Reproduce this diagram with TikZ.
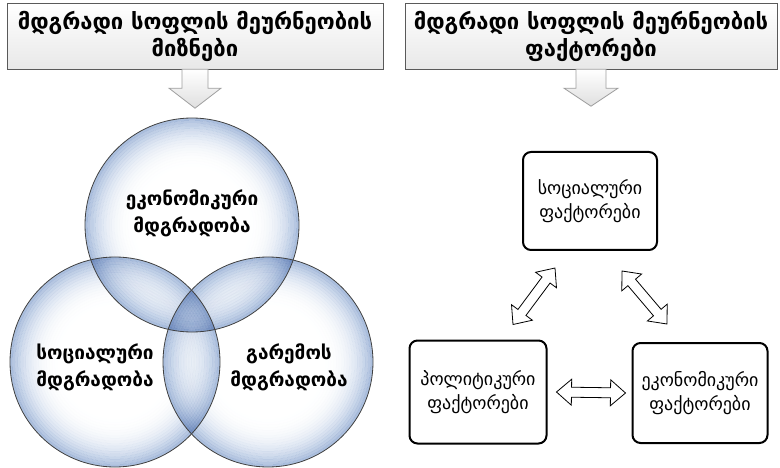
\documentclass[tikz,border=0pt]{standalone}
\usepackage{fontspec}
\newfontfamily\geo{DejaVu Sans}
\usepackage{tikz}
\usetikzlibrary{calc,shadows,arrows,shapes}
\usetikzlibrary{positioning}

\definecolor{bubbleedge}{RGB}{165,187,220}

\begin{document}
\begin{tikzpicture}[x=1pt,y=-1pt,
	headbox/.style={draw=gray!70!black, top color=white, bottom color=gray!18, minimum height=66pt, align=center, inner sep=0pt, font=\geo\bfseries\fontsize{22}{27}\selectfont},
	downarrow/.style={draw=gray!75, line width=0.8pt, top color=white, bottom color=gray!25},
	circlenode/.style={circle, minimum size=#1},
	circtext/.style={align=center, font=\geo\bfseries\fontsize{19}{27}\selectfont},
	factbox/.style={draw, line width=2pt, rounded corners=8pt, fill=white, minimum width=134pt, minimum height=100pt, align=center, font=\geo\fontsize{18}{24}\selectfont},
	twoway/.style={draw, fill=white, line width=0.8pt, to path={
		-- ($(\tikztostart)!15pt!(\tikztotarget)!13pt!90:(\tikztotarget)$)
		-- ($(\tikztostart)!15pt!(\tikztotarget)!5pt!90:(\tikztotarget)$)
		-- ($(\tikztotarget)!15pt!(\tikztostart)!5pt!-90:(\tikztostart)$)
		-- ($(\tikztotarget)!15pt!(\tikztostart)!13pt!-90:(\tikztostart)$)
		-- (\tikztotarget)
		-- ($(\tikztotarget)!15pt!(\tikztostart)!13pt!90:(\tikztostart)$)
		-- ($(\tikztotarget)!15pt!(\tikztostart)!5pt!90:(\tikztostart)$)
		-- ($(\tikztostart)!15pt!(\tikztotarget)!5pt!-90:(\tikztotarget)$)
		-- ($(\tikztostart)!15pt!(\tikztotarget)!13pt!-90:(\tikztotarget)$)
		-- cycle}}]
	\useasboundingbox (0,0) rectangle (780,468);
	
	% headers and their arrows
	\node[headbox, minimum width=376pt] (goals) at (195,36) {მდგრადი სოფლის მეურნეობის\\მიზნები};
	\node[headbox, minimum width=372pt] (factors) at (591,36) {მდგრადი სოფლის მეურნეობის\\ფაქტორები};
	
	\draw[downarrow] ([xshift=-13pt]goals.south) -- ++(0,19) -- ++(-13,0) -- ++(26,20) -- ++(26,-20) -- ++(-13,0) -- ++(0,-19) -- cycle;
	\draw[downarrow] ([xshift=-15pt]factors.south) -- ++(0,19) -- ++(-12,0) -- ++(27,18) -- ++(27,-18) -- ++(-12,0) -- ++(0,-19) -- cycle;
	
	% three circles, bluish towards the rim, multiplied where they overlap
	\node[circlenode=214pt] (ecoc) at (192,225) {};
	\node[circlenode=210pt] (socc) at (115,362) {};
	\node[circlenode=210pt] (envc) at (268,362) {};
	\begin{scope}[blend mode=multiply]
		\foreach \c/\r in {ecoc/107, socc/105, envc/105}
		\foreach \i in {0,...,19}{
			\pgfmathsetmacro{\p}{100*(1-(\i+0.5)*0.05)^2.6}
			\fill[bubbleedge!\p!white, even odd rule] (\c.center) circle ({\r*(1-\i*0.025)}) circle ({\r*(1-(\i+1)*0.025)});
		}
	\end{scope}
	\foreach \c/\r in {ecoc/107, socc/105, envc/105}
		\draw[black!75, line width=0.8pt] (\c.center) circle (\r);
	
	\node[circtext] (ecot) at ([yshift=12pt]ecoc.center) {ეკონომიკური\\მდგრადობა};
	\node[circtext] (soct) at ([xshift=-20pt,yshift=-5pt]socc.center) {სოციალური\\მდგრადობა};
	\node[circtext] (envt) at ([xshift=21pt,yshift=-5pt]envc.center) {გარემოს\\მდგრადობა};
	
	% factor boxes
	\node[factbox, minimum height=98pt] (socf) at (590,201) {სოციალური\\ფაქტორები};
	\node[factbox, minimum width=137pt, minimum height=103pt] (polf) at (478,392) {პოლიტიკური\\ფაქტორები};
	\node[factbox, minimum width=135pt] (ecof) at (700,393) {ეკონომიკური\\ფაქტორები};
	
	\draw[twoway] ([xshift=35pt,yshift=15pt]polf.north) to ([xshift=-35pt,yshift=-17pt]socf.south);
	\draw[twoway] ([xshift=32pt,yshift=-20pt]socf.south) to ([xshift=-33pt,yshift=18pt]ecof.north);
	\draw[twoway] ([xshift=9pt]polf.east) to ([xshift=-6pt]ecof.west);
\end{tikzpicture}
\end{document}
